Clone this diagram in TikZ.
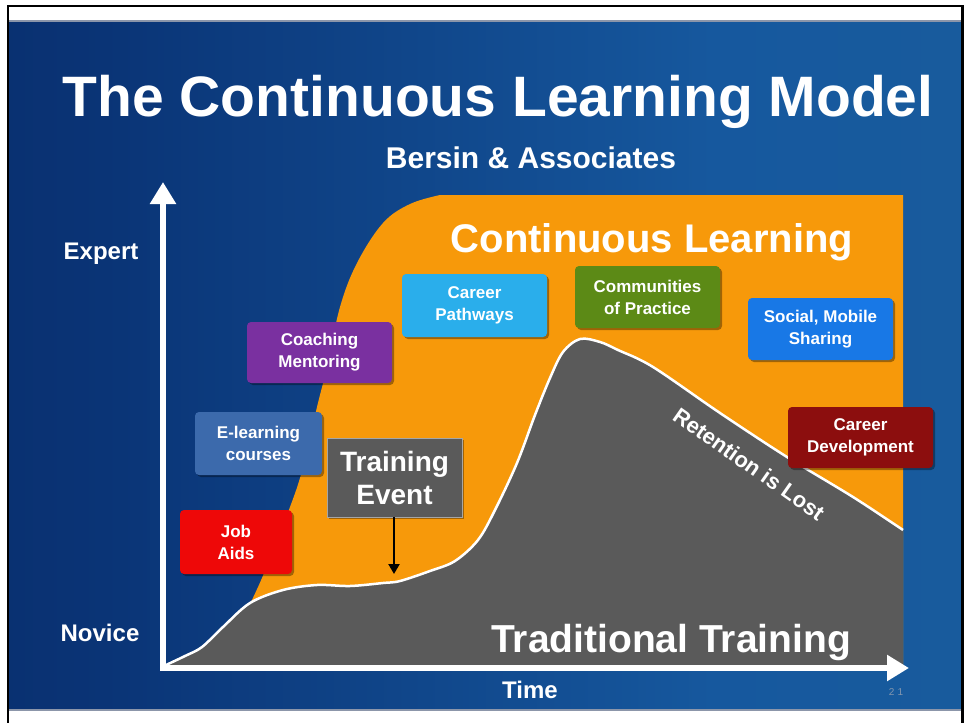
\documentclass[tikz,border=0pt]{standalone}
\usepackage{fontspec}
\setmainfont{Liberation Sans}
\usetikzlibrary{arrows.meta,shadows}

\definecolor{navyA}{RGB}{6,34,90}
\definecolor{navyB}{RGB}{10,52,118}
\definecolor{navyC}{RGB}{22,88,158}
\definecolor{navyD}{RGB}{26,94,156}
\definecolor{navyE}{RGB}{14,66,118}
\definecolor{orangeCL}{RGB}{247,153,10}
\definecolor{grayTT}{RGB}{90,90,90}
\definecolor{jobRed}{RGB}{238,8,8}
\definecolor{elearnBlue}{RGB}{60,106,172}
\definecolor{coachPurple}{RGB}{122,48,160}
\definecolor{pathBlue}{RGB}{42,174,235}
\definecolor{commGreen}{RGB}{92,138,22}
\definecolor{socialBlue}{RGB}{24,120,230}
\definecolor{devRed}{RGB}{140,14,14}
\definecolor{edgeGray}{RGB}{140,150,170}
\definecolor{pageNum}{RGB}{130,150,175}

\pgfdeclarehorizontalshading{slidebg}{100bp}{%
  color(0bp)=(navyA); color(30bp)=(navyB); color(62bp)=(navyC);
  color(88bp)=(navyD); color(100bp)=(navyE)}

\tikzset{
  heading/.style={text=white, anchor=base, inner sep=0pt, font=\bfseries},
  tagbox/.style={rounded corners=4pt, text=white, align=center, inner sep=0pt,
    font=\bfseries\fontsize{17}{22}\selectfont,
    drop shadow={shadow xshift=2pt, shadow yshift=-2pt, opacity=0.35, fill=black}},
  axis/.style={draw=white, line width=6pt},
  edgeline/.style={draw=white, line width=2.5pt},
}

\begin{document}
\begin{tikzpicture}[x=1pt,y=-1pt]
\useasboundingbox (0,0) rectangle (967,723);
\fill[white] (0,0) rectangle (967,723);

% slide background
\shade[shading=slidebg] (9,21) rectangle (962,710);
\draw[edgeGray, line width=2pt] (9,21) -- (962,21);
\draw[edgeGray, line width=2pt] (9,710) -- (962,710);

% outer frame
\draw[black, line width=2.5pt] (8,723) -- (8,6) -- (962.5,6) -- (962.5,723);

% titles
\node[heading, font=\bfseries\fontsize{57}{60}\selectfont] (title) at (498,116) {The Continuous Learning Model};
\node[heading, font=\bfseries\fontsize{30}{32}\selectfont] (sub) at (531,168) {Bersin \& Associates};

% continuous learning region
\fill[orangeCL] plot[smooth, tension=0.6] coordinates {(250,604) (262,578) (277,540) (290,507) (300,478) (310,440) (317,407) (327,367) (340,307) (357,263) (383,223) (410,204) (440,195)}
  -- (903,195) -- (903,665) -- (250,665) -- cycle;

% traditional training region
\fill[grayTT] plot[smooth, tension=0.55] coordinates {(166,665) (185,656) (202,647) (223,627) (250,603) (283,590) (317,585) (350,586) (383,583) (400,581) (430,571) (455,561) (478,540) (495,510) (517,463) (535,415) (550,378) (563,352) (580,339) (600,342) (618,350) (653,367) (720,413) (787,457) (853,497) (903,530)}
  -- (903,665) -- cycle;
\draw[edgeline] plot[smooth, tension=0.55] coordinates {(166,665) (185,656) (202,647) (223,627) (250,603) (283,590) (317,585) (350,586) (383,583) (400,581) (430,571) (455,561) (478,540) (495,510) (517,463) (535,415) (550,378) (563,352) (580,339) (600,342) (618,350) (653,367) (720,413) (787,457) (853,497) (903,530)};

% region labels
\node[heading, font=\bfseries\fontsize{40}{42}\selectfont] (cl) at (652,252) {Continuous Learning};
\node[heading, font=\bfseries\fontsize{39}{42}\selectfont] (tt) at (671,652) {Traditional Training};
\node[text=white, inner sep=0pt, font=\bfseries\fontsize{22}{24}\selectfont, rotate=-35] (lost) at (749,464) {Retention is Lost};

% axes
\draw[axis, -{Triangle[width=25pt,length=22pt]}] (163,671) -- (163,182);
\draw[axis, -{Triangle[width=25pt,length=22pt]}] (160,668) -- (909,668);
\node[heading, font=\bfseries\fontsize{24}{26}\selectfont] (expert) at (101,259) {Expert};
\node[heading, font=\bfseries\fontsize{24}{26}\selectfont] (novice) at (100,641) {Novice};
\node[heading, font=\bfseries\fontsize{24}{26}\selectfont] (time) at (530,698) {Time};

% learning channels
\node[tagbox, fill=jobRed, minimum width=112pt, minimum height=64pt] (job) at (236,542) {Job\\Aids};
\node[tagbox, fill=elearnBlue, minimum width=127pt, minimum height=63pt] (elearn) at (258.5,443.5) {E-learning\\courses};
\node[tagbox, fill=coachPurple, minimum width=145pt, minimum height=61pt] (coach) at (319.5,352.5) {Coaching\\Mentoring};
\node[tagbox, fill=pathBlue, minimum width=145pt, minimum height=63pt] (path) at (474.5,305.5) {Career\\Pathways};
\node[tagbox, fill=commGreen, minimum width=145pt, minimum height=62pt] (comm) at (647.5,297) {Communities\\of Practice};
\node[tagbox, fill=socialBlue, minimum width=145pt, minimum height=62pt] (social) at (820.5,329) {Social, Mobile\\Sharing};
\node[tagbox, fill=devRed, minimum width=145pt, minimum height=61pt] (dev) at (860.5,437.5) {Career\\Development};

% training event
\node[fill=grayTT, draw=gray!70!white, line width=0.6pt, text=white, align=center, inner sep=0pt,
  minimum width=135pt, minimum height=79pt, font=\bfseries\fontsize{28}{33}\selectfont,
  drop shadow={shadow xshift=2pt, shadow yshift=-2pt, opacity=0.35, fill=black}] (te) at (394.5,477.5) {Training\\Event};
\coordinate (teTip) at (394,574);
\draw[black, line width=2.2pt, -{Triangle[width=11pt,length=10pt]}] (te.south -| teTip) -- (teTip);

% page number
\node[text=pageNum, inner sep=0pt, font=\fontsize{10}{12}\selectfont\addfontfeature{LetterSpace=30}] (pg) at (896,692) {21};
\end{tikzpicture}
\end{document}
